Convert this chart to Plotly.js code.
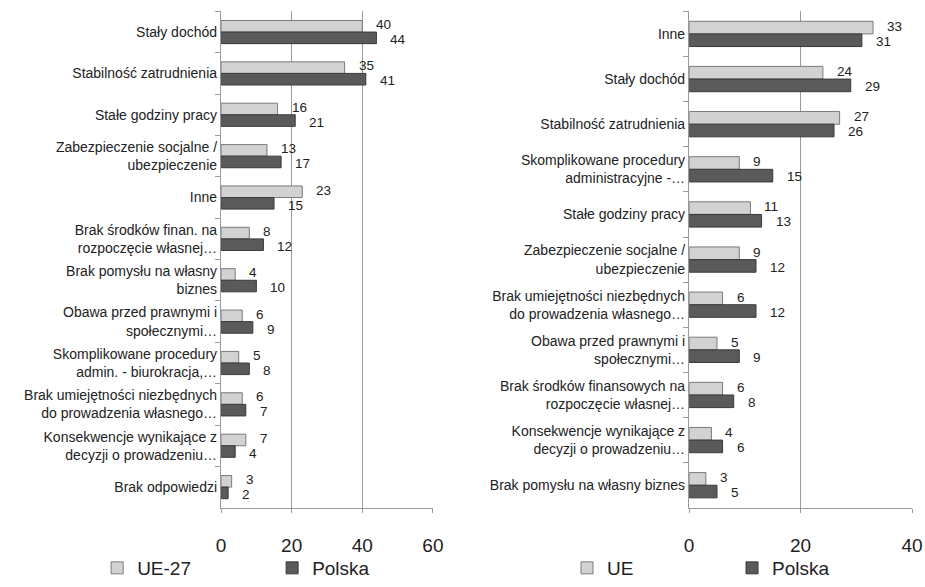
<!DOCTYPE html>
<html><head><meta charset="utf-8">
<script src="https://cdn.plot.ly/plotly-3.0.1.min.js"></script>
<style>html,body{margin:0;padding:0;background:#fff}#chart{width:925px;height:587px}</style>
</head><body><div id="chart"></div>
<script>
// Left chart
const leftCategories = [
  "Stały dochód",
  "Stabilność zatrudnienia",
  "Stałe godziny pracy",
  "Zabezpieczenie socjalne /<br>ubezpieczenie",
  "Inne",
  "Brak środków finan. na<br>rozpoczęcie własnej…",
  "Brak pomysłu na własny<br>biznes",
  "Obawa przed prawnymi i<br>społecznymi…",
  "Skomplikowane procedury<br>admin. - biurokracja,…",
  "Brak umiejętności niezbędnych<br>do prowadzenia własnego…",
  "Konsekwencje wynikające z<br>decyzji o prowadzeniu…",
  "Brak odpowiedzi"
];
const leftUE27 = [40, 35, 16, 13, 23, 8, 4, 6, 5, 6, 7, 3];
const leftPolska = [44, 41, 21, 17, 15, 12, 10, 9, 8, 7, 4, 2];
const leftTicks = [0, 20, 40, 60];

// Right chart
const rightCategories = [
  "Inne",
  "Stały dochód",
  "Stabilność zatrudnienia",
  "Skomplikowane procedury<br>administracyjne -…",
  "Stałe godziny pracy",
  "Zabezpieczenie socjalne /<br>ubezpieczenie",
  "Brak umiejętności niezbędnych<br>do prowadzenia własnego…",
  "Obawa przed prawnymi i<br>społecznymi…",
  "Brak środków finansowych na<br>rozpoczęcie własnej…",
  "Konsekwencje wynikające z<br>decyzji o prowadzeniu…",
  "Brak pomysłu na własny biznes"
];
const rightUE = [33, 24, 27, 9, 11, 9, 6, 5, 6, 4, 3];
const rightPolska = [31, 29, 26, 15, 13, 12, 12, 9, 8, 6, 5];
const rightTicks = [0, 20, 40];

const FONT = "Liberation Sans, Arial, sans-serif";
const ueStyle = {color: '#d2d2d2', line: {color: '#7a7a7a', width: 1}};
const plStyle = {color: '#5a5a5a', line: {color: '#3a3a3a', width: 1}};
const txtFont = {family: FONT, size: 13.5, color: '#222'};

function barTrace(x, y, name, marker, xa, ya, legend) {
  return {
    type: 'bar', orientation: 'h', x: x, y: y, name: name, marker: marker,
    xaxis: xa, yaxis: ya, legend: legend, hoverinfo: 'skip'
  };
}

// value labels placed through the axes (upper = first series, lower = second series)
function labels(vals, cats, xref, yref, up) {
  return vals.map((v, i) => ({
    x: v, y: cats[i], xref: xref, yref: yref, text: String(v),
    showarrow: false, xanchor: 'left', yanchor: 'middle',
    xshift: 12, yshift: up ? 7.5 : -7.5, font: txtFont
  }));
}

const data = [
  barTrace(leftUE27, leftCategories, 'UE-27', ueStyle, 'x', 'y', 'legend'),
  barTrace(leftPolska, leftCategories, 'Polska', plStyle, 'x', 'y', 'legend'),
  barTrace(rightUE, rightCategories, 'UE', ueStyle, 'x2', 'y2', 'legend2'),
  barTrace(rightPolska, rightCategories, 'Polska', plStyle, 'x2', 'y2', 'legend2')
];

const annotations = [].concat(
  labels(leftUE27, leftCategories, 'x', 'y', true),
  labels(leftPolska, leftCategories, 'x', 'y', false),
  labels(rightUE, rightCategories, 'x2', 'y2', true),
  labels(rightPolska, rightCategories, 'x2', 'y2', false)
);

const xCommon = {
  showgrid: true, gridcolor: '#9a9a9a', gridwidth: 1.2,
  showline: true, linecolor: '#9a9a9a', linewidth: 1.2,
  ticks: 'outside', ticklen: 4, tickcolor: '#9a9a9a',
  tickfont: {family: FONT, size: 19, color: '#222'},
  ticklabelstandoff: 16, zeroline: false, fixedrange: true
};
const yCommon = {
  type: 'category', autorange: 'reversed',
  showline: true, linecolor: '#9a9a9a', linewidth: 1.2,
  ticks: 'outside', ticklen: 5, tickcolor: '#9a9a9a', tickson: 'boundaries',
  tickfont: {family: FONT, size: 14, color: '#222'},
  showgrid: false, zeroline: false, fixedrange: true
};

const layout = {
  width: 925, height: 587,
  margin: {l: 0, r: 0, t: 0, b: 0},
  paper_bgcolor: '#fff', plot_bgcolor: '#fff',
  barmode: 'group', bargap: 0.44, bargroupgap: 0,
  showlegend: true,
  font: {family: FONT, color: '#222'},
  annotations: annotations,
  xaxis: Object.assign({}, xCommon, {domain: [0.239, 0.468], anchor: 'y', range: [0, 60], tickvals: leftTicks}),
  yaxis: Object.assign({}, yCommon, {domain: [0.106, 0.98], anchor: 'x'}),
  xaxis2: Object.assign({}, xCommon, {domain: [0.745, 0.986], anchor: 'y2', range: [0, 40], tickvals: rightTicks}),
  yaxis2: Object.assign({}, yCommon, {domain: [0.106, 0.98], anchor: 'x2'}),
  legend: {orientation: 'h', x: 0.105, xanchor: 'left', y: 0.0, yanchor: 'middle',
    font: {family: FONT, size: 19, color: '#222'}, entrywidth: 130, traceorder: 'normal',
    bgcolor: 'rgba(0,0,0,0)', itemclick: false},
  legend2: {orientation: 'h', x: 0.613, xanchor: 'left', y: 0.0, yanchor: 'middle',
    font: {family: FONT, size: 19, color: '#222'}, entrywidth: 120, traceorder: 'normal',
    bgcolor: 'rgba(0,0,0,0)', itemclick: false}
};

Plotly.newPlot('chart', data, layout, {displayModeBar: false, staticPlot: true});
</script></body></html>
